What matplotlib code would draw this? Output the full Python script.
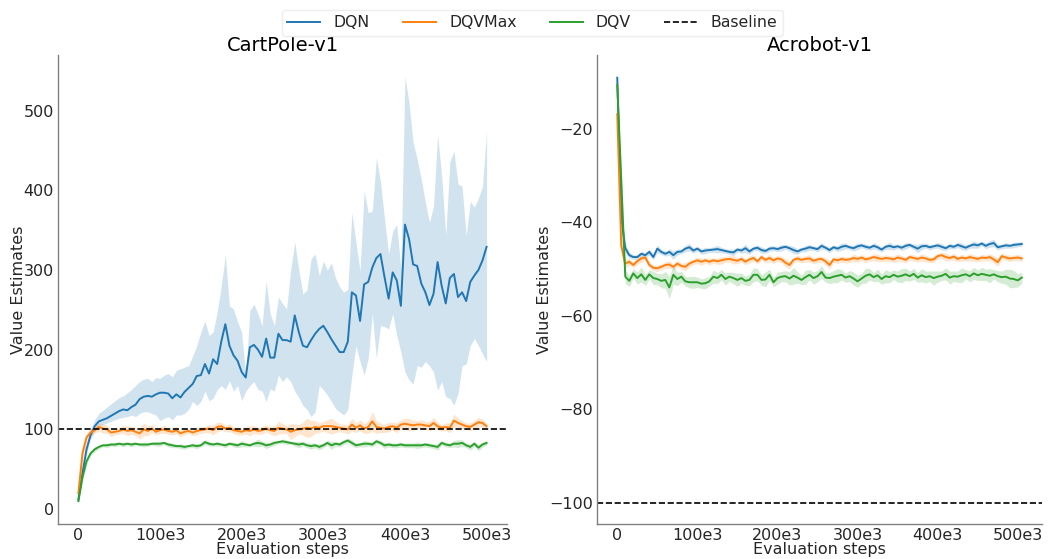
import numpy as np
import matplotlib
matplotlib.use("Agg")
import matplotlib.pyplot as plt

# ---------------- data ----------------
cart_steps = np.arange(0, 500001, 5000)
acro_steps = np.arange(0, 505001, 5000)

cart_dqn = [12, 45, 75, 93, 104, 110, 112, 114, 117, 120,
            123, 125, 124, 128, 131, 138, 141, 142, 141, 144,
            146, 146, 145, 139, 144, 140, 147, 152, 157, 167,
            168, 182, 170, 188, 182, 210, 232, 205, 193, 186,
            172, 165, 203, 206, 200, 191, 214, 190, 190, 220,
            212, 212, 210, 243, 222, 205, 203, 212, 220, 226,
            230, 222, 213, 205, 197, 197, 210, 272, 268, 236,
            282, 285, 303, 315, 320, 291, 264, 297, 287, 255,
            357, 339, 307, 305, 283, 272, 256, 270, 310, 280,
            258, 290, 295, 266, 272, 261, 285, 293, 300, 312,
            329]
cart_dqn_upper = [14, 50, 80, 100, 112, 120, 124, 128, 132, 136,
                  140, 142, 146, 150, 155, 160, 163, 164, 160, 165,
                  164, 168, 170, 166, 174, 176, 178, 180, 192, 205,
                  222, 236, 218, 222, 247, 280, 319, 255, 251, 235,
                  222, 168, 249, 257, 245, 230, 286, 245, 230, 266,
                  258, 251, 300, 335, 300, 270, 275, 314, 320, 293,
                  311, 300, 309, 290, 279, 272, 276, 372, 335, 299,
                  399, 372, 374, 441, 411, 364, 320, 349, 357, 301,
                  543, 510, 460, 439, 414, 385, 360, 380, 470, 418,
                  343, 436, 449, 408, 405, 343, 386, 379, 390, 405,
                  474]
cart_dqn_lower = [10, 40, 70, 88, 98, 104, 106, 108, 110, 112,
                  114, 115, 116, 118, 116, 120, 122, 122, 120, 118,
                  111, 114, 116, 112, 118, 118, 120, 125, 135, 130,
                  135, 148, 136, 139, 150, 155, 150, 161, 148, 155,
                  136, 148, 155, 160, 150, 148, 135, 151, 148, 168,
                  160, 166, 160, 148, 140, 130, 125, 116, 122, 155,
                  150, 143, 135, 126, 122, 118, 125, 168, 205, 185,
                  168, 189, 245, 189, 230, 229, 226, 245, 218, 197,
                  172, 162, 157, 180, 178, 185, 180, 172, 149, 160,
                  141, 139, 130, 145, 180, 182, 205, 214, 205, 195,
                  185]

cart_dqvmax = [20, 70, 90, 96, 99, 103, 101, 100, 96, 97,
               98, 100, 98, 99, 97, 95, 100, 98, 101, 97,
               99, 100, 98, 97, 99, 95, 97, 98, 96, 98,
               99, 100, 101, 99, 103, 104, 101, 102, 99, 98,
               97, 99, 98, 100, 98, 99, 101, 99, 98, 102,
               101, 100, 97, 99, 100, 101, 102, 101, 103, 102,
               104, 104, 104, 103, 102, 101, 100, 106, 102, 105,
               101, 103, 110, 103, 102, 101, 103, 104, 102, 106,
               107, 106, 105, 106, 106, 105, 104, 108, 104, 102,
               103, 102, 111, 108, 106, 104, 103, 106, 109, 108,
               104]
cart_dqvmax_spread = [3, 8, 6, 5, 4, 5, 6, 5, 5, 4,
                      4, 5, 6, 5, 5, 7, 8, 6, 5, 4,
                      4, 5, 4, 4, 5, 4, 4, 3, 4, 5,
                      4, 4, 5, 6, 6, 5, 4, 5, 4, 5,
                      4, 5, 6, 5, 4, 5, 4, 5, 6, 8,
                      6, 5, 10, 8, 6, 8, 12, 10, 8, 6,
                      6, 8, 10, 7, 5, 5, 6, 8, 6, 7,
                      6, 8, 12, 8, 6, 5, 6, 5, 6, 6,
                      7, 8, 6, 5, 6, 5, 6, 7, 5, 4,
                      5, 6, 8, 6, 5, 4, 5, 5, 6, 5,
                      4]

cart_dqv = [10, 40, 60, 70, 75, 78, 80, 80, 81, 81,
            82, 81, 82, 81, 82, 81, 81, 81, 82, 82,
            82, 83, 81, 80, 79, 79, 78, 79, 80, 79,
            80, 84, 82, 81, 82, 81, 80, 82, 81, 80,
            82, 81, 80, 82, 83, 82, 80, 81, 83, 84,
            85, 84, 83, 82, 81, 82, 80, 79, 80, 78,
            80, 83, 80, 82, 81, 84, 86, 83, 80, 81,
            82, 82, 81, 85, 83, 80, 81, 80, 80, 81,
            80, 80, 80, 80, 80, 81, 80, 79, 78, 83,
            81, 80, 82, 82, 83, 80, 78, 82, 77, 81,
            83]
cart_dqv_spread = [2, 5, 4, 3, 3, 2, 2, 3, 2, 3,
                   2, 3, 2, 3, 2, 2, 3, 2, 2, 3,
                   3, 2, 3, 3, 2, 3, 3, 2, 3, 3,
                   2, 3, 3, 2, 3, 2, 3, 2, 3, 3,
                   4, 3, 2, 3, 5, 3, 4, 3, 3, 2,
                   3, 3, 2, 3, 4, 3, 3, 4, 3, 4,
                   3, 3, 5, 3, 3, 3, 3, 4, 3, 3,
                   4, 3, 3, 3, 3, 4, 3, 3, 3, 3,
                   3, 3, 3, 4, 3, 3, 3, 3, 4, 3,
                   3, 3, 4, 5, 4, 3, 4, 3, 4, 3,
                   3]

acro_dqn = [-9.0, -39.0, -45.5, -47.0, -47.4, -47.4, -46.7, -47.0, -46.3, -47.4,
            -45.6, -46.3, -46.7, -46.3, -47.0, -46.3, -46.2, -45.6, -45.3, -46.0,
            -45.6, -46.2, -46.0, -45.9, -45.8, -45.7, -45.9, -46.1, -46.3, -46.4,
            -45.8, -46.0, -45.5, -46.2, -45.6, -45.4, -45.9, -46.1, -45.6, -45.5,
            -45.7, -45.4, -45.2, -45.5, -45.9, -46.2, -45.8, -45.6, -45.3, -45.5,
            -45.7, -45.0, -45.4, -45.9, -45.3, -45.6, -45.2, -45.0, -45.3, -45.5,
            -45.1, -44.9, -45.2, -45.4, -45.0, -45.3, -45.8, -45.2, -45.0, -45.3,
            -45.1, -45.4, -45.0, -44.8, -45.2, -45.6, -45.1, -45.0, -45.3, -45.1,
            -44.9, -45.2, -45.5, -45.0, -45.2, -44.8, -45.1, -45.4, -45.0, -44.7,
            -44.9, -44.5, -45.0, -44.6, -44.4, -45.3, -45.1, -44.9, -45.0, -44.8,
            -44.7, -44.6]
acro_dqn_spread = [0.3, 2.0, 1.0, 0.6, 0.5, 0.5, 0.6, 0.5, 0.7, 0.6,
                   0.8, 0.6, 0.5, 0.7, 0.9, 0.6, 0.5, 0.7, 0.8, 0.6,
                   0.5, 0.6, 0.7, 0.5, 0.6, 0.8, 0.6, 0.5, 0.6, 0.7,
                   0.5, 0.6, 0.9, 0.6, 0.5, 0.6, 0.7, 0.5, 0.6, 0.5,
                   0.6, 0.7, 0.5, 0.6, 0.8, 0.6, 0.5, 0.7, 0.6, 0.5,
                   0.6, 0.7, 0.5, 0.6, 0.5, 0.6, 0.8, 0.6, 0.5, 0.6,
                   0.7, 0.5, 0.6, 0.5, 0.7, 0.6, 0.5, 0.6, 0.8, 0.6,
                   0.5, 0.6, 0.7, 0.5, 0.6, 0.9, 0.7, 0.5, 0.6, 0.5,
                   0.6, 0.7, 0.5, 0.6, 0.5, 0.6, 0.7, 0.6, 0.5, 0.8,
                   0.6, 0.5, 0.6, 0.7, 0.8, 0.6, 0.5, 0.6, 0.5, 0.6,
                   0.5, 0.5]

acro_dqvmax = [-16.8, -45.0, -48.8, -48.4, -49.1, -48.3, -47.7, -47.5, -49.1, -49.7,
               -49.8, -49.5, -49.1, -49.0, -49.5, -48.8, -49.3, -49.5, -48.8, -48.4,
               -48.1, -48.4, -48.1, -48.4, -48.1, -48.3, -48.1, -47.9, -47.8, -48.0,
               -48.2, -47.8, -48.4, -47.9, -47.6, -48.3, -47.4, -48.0, -47.6, -48.1,
               -47.7, -47.9, -48.6, -49.1, -48.0, -47.7, -48.0, -47.8, -47.7, -48.2,
               -47.9, -47.8, -48.3, -49.1, -47.9, -48.1, -47.8, -48.0, -47.9, -47.6,
               -47.8, -47.5, -47.9, -47.7, -47.4, -47.6, -47.8, -47.6, -47.7, -47.9,
               -47.5, -47.7, -48.0, -47.4, -47.6, -47.8, -47.5, -47.7, -48.0, -47.9,
               -47.2, -47.0, -47.4, -47.6, -47.3, -47.8, -47.5, -47.7, -47.4, -47.6,
               -47.8, -47.5, -47.6, -47.4, -47.9, -48.5, -47.2, -47.5, -47.7, -47.6,
               -47.5, -47.7]
acro_dqvmax_spread = [0.4, 2.0, 1.0, 0.7, 0.6, 0.7, 0.8, 0.6, 0.7, 0.6,
                      0.7, 0.6, 0.7, 0.8, 0.6, 0.7, 0.6, 0.9, 0.7, 0.6,
                      0.7, 0.8, 0.6, 0.7, 0.6, 0.7, 0.8, 0.6, 0.7, 0.9,
                      0.6, 0.7, 0.6, 0.8, 0.7, 0.6, 0.7, 0.6, 0.8, 0.7,
                      0.6, 0.7, 0.9, 0.8, 0.6, 0.7, 0.6, 0.7, 0.8, 0.6,
                      0.7, 0.6, 0.8, 0.9, 0.6, 0.7, 0.6, 0.7, 0.6, 0.8,
                      0.7, 0.6, 0.7, 0.6, 0.7, 0.8, 0.6, 0.7, 0.6, 0.7,
                      0.8, 0.6, 0.7, 0.6, 0.7, 0.6, 0.8, 0.7, 0.6, 0.7,
                      0.6, 0.7, 0.8, 0.6, 0.7, 0.6, 0.7, 0.6, 0.8, 0.7,
                      0.6, 0.7, 0.6, 0.7, 0.8, 0.9, 0.7, 0.6, 0.7, 0.6,
                      0.7, 0.6]

acro_dqv = [-10.5, -31.0, -51.6, -52.5, -50.9, -51.9, -51.1, -52.3, -51.1, -51.9,
            -52.1, -52.5, -52.3, -53.9, -51.2, -52.1, -51.6, -52.6, -52.8, -52.8,
            -52.8, -53.1, -53.0, -52.6, -51.6, -51.9, -51.2, -52.1, -51.6, -51.9,
            -52.3, -51.9, -52.5, -52.3, -51.2, -51.2, -52.3, -52.2, -51.2, -52.8,
            -51.9, -51.6, -51.5, -52.0, -51.4, -51.8, -52.3, -51.7, -51.2, -51.9,
            -51.5, -50.6, -51.8, -51.9, -51.6, -51.4, -51.2, -51.8, -51.5, -52.0,
            -52.6, -52.0, -51.4, -51.1, -51.7, -51.3, -52.1, -51.5, -51.7, -51.2,
            -51.6, -51.4, -51.1, -51.5, -51.0, -51.8, -51.3, -51.7, -51.5, -51.9,
            -51.6, -51.4, -51.0, -51.8, -51.5, -51.6, -51.3, -51.1, -51.5, -50.9,
            -51.3, -51.0, -51.2, -51.4, -51.1, -51.5, -51.7, -51.6, -52.0, -52.1,
            -52.4, -51.8]
acro_dqv_spread = [0.5, 2.5, 1.5, 1.2, 1.0, 1.3, 1.6, 1.2, 1.0, 1.4,
                   1.2, 1.5, 1.8, 2.4, 2.0, 1.4, 1.2, 1.0, 1.2, 1.3,
                   1.1, 1.0, 1.2, 1.0, 1.4, 1.2, 1.1, 1.3, 1.0, 1.2,
                   1.4, 1.1, 1.0, 1.2, 1.5, 1.3, 1.1, 1.6, 1.2, 1.0,
                   1.3, 1.1, 1.2, 1.4, 1.8, 1.2, 1.0, 1.5, 1.1, 1.3,
                   1.2, 1.4, 1.0, 1.2, 1.3, 1.5, 1.1, 1.0, 1.2, 1.4,
                   1.3, 1.1, 1.6, 1.2, 1.0, 1.3, 1.1, 1.4, 1.2, 1.0,
                   1.2, 1.5, 1.3, 1.1, 1.2, 1.0, 1.4, 1.3, 1.1, 1.5,
                   1.2, 1.0, 1.3, 1.4, 1.1, 1.2, 1.6, 1.0, 1.2, 1.3,
                   1.1, 1.4, 1.2, 1.5, 1.0, 1.2, 1.3, 1.6, 2.0, 1.8,
                   1.4, 1.2]

cart_baseline = 100
acro_baseline = -100

labels = ["DQN", "DQVMax", "DQV", "Baseline"]
colors = ["#1f77b4", "#ff7f0e", "#2ca02c"]
xtick_vals = [0, 100e3, 200e3, 300e3, 400e3, 500e3]
xtick_labels = ["0", "100e3", "200e3", "300e3", "400e3", "500e3"]

# ---------------- plot ----------------
plt.rcParams["font.family"] = "DejaVu Sans"
fig = plt.figure(figsize=(10.58, 5.59), dpi=100)
ax1 = fig.add_axes([0.0548, 0.0626, 0.4244, 0.839])
ax2 = fig.add_axes([0.5643, 0.0626, 0.4206, 0.839])


def style(ax, title):
    ax.set_title(title, fontsize=14, pad=3)
    for s in ["top", "right"]:
        ax.spines[s].set_visible(False)
    for s in ["left", "bottom"]:
        ax.spines[s].set_color("#808080")
        ax.spines[s].set_linewidth(1.0)
    ax.tick_params(length=0, labelsize=11.5, pad=3, colors="#262626")
    ax.set_xticks(xtick_vals)
    ax.set_xticklabels(xtick_labels)
    ax.set_xlabel("Evaluation steps", fontsize=11.5, labelpad=-1, color="#262626")
    ax.set_ylabel("Value Estimates", fontsize=11.5, labelpad=-2, color="#262626")


def band(ax, x, mean, lo, hi, c, label):
    ax.fill_between(x, lo, hi, color=c, alpha=0.2, linewidth=0)
    ax.plot(x, mean, color=c, lw=1.4, label=label)


cm = np.array(cart_dqn)
band(ax1, cart_steps, cm, cart_dqn_lower, cart_dqn_upper, colors[0], labels[0])
m = np.array(cart_dqvmax); s = np.array(cart_dqvmax_spread)
band(ax1, cart_steps, m, m - s, m + s, colors[1], labels[1])
m = np.array(cart_dqv); s = np.array(cart_dqv_spread)
band(ax1, cart_steps, m, m - s, m + s, colors[2], labels[2])
ax1.axhline(cart_baseline, color="black", ls="--", lw=1.2, label=labels[3])
ax1.set_yticks([0, 100, 200, 300, 400, 500])
style(ax1, "CartPole-v1")

for mean, spread, c, lab in [(acro_dqn, acro_dqn_spread, colors[0], labels[0]),
                             (acro_dqvmax, acro_dqvmax_spread, colors[1], labels[1]),
                             (acro_dqv, acro_dqv_spread, colors[2], labels[2])]:
    m = np.array(mean); s = np.array(spread)
    band(ax2, acro_steps, m, m - s, m + s, c, lab)
ax2.axhline(acro_baseline, color="black", ls="--", lw=1.2, label=labels[3])
ax2.set_yticks([-100, -80, -60, -40, -20])
style(ax2, "Acrobot-v1")

handles, labs = ax1.get_legend_handles_labels()
leg = fig.legend(handles, labs, loc="upper center", ncol=4, bbox_to_anchor=(0.503, 0.997),
                 fontsize=11.3, frameon=True, framealpha=1.0, edgecolor="#eeeeee",
                 columnspacing=2.1, handlelength=2.1, handletextpad=0.85,
                 borderpad=0.35)
for t in leg.get_texts():
    t.set_color("#262626")

fig.savefig("out.png", dpi=100)
